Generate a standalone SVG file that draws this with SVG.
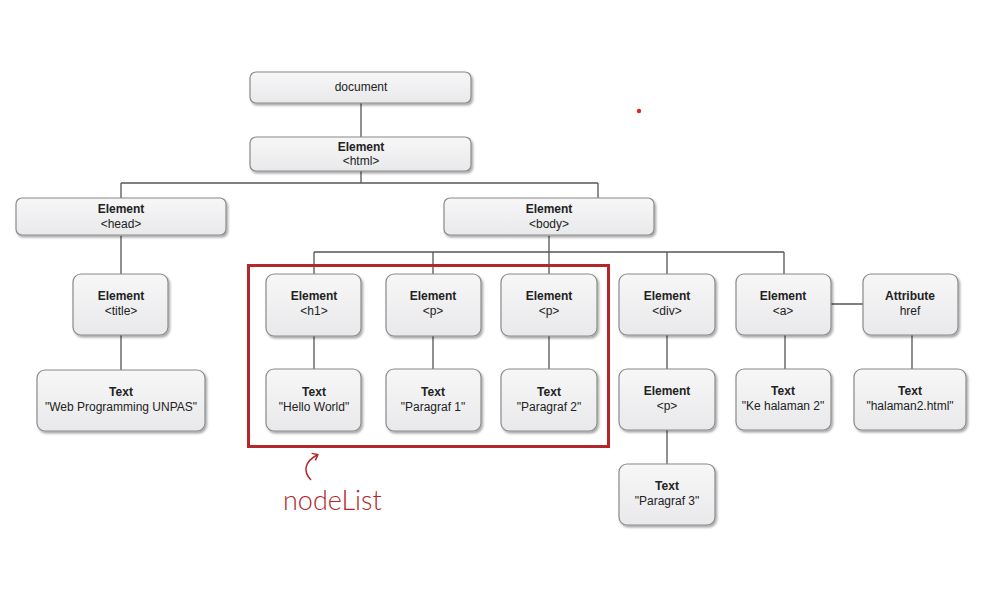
<svg xmlns="http://www.w3.org/2000/svg" width="991" height="602" viewBox="0 0 991 602">
<defs>
<linearGradient id="g" x1="0" y1="0" x2="0" y2="1"><stop offset="0" stop-color="#f7f7f8"/><stop offset="1" stop-color="#e9e9eb"/></linearGradient>
<filter id="sh" x="-10%" y="-10%" width="125%" height="130%"><feDropShadow dx="1.5" dy="2" stdDeviation="1.2" flood-color="#000" flood-opacity="0.35"/></filter>
<marker id="arr" markerWidth="10" markerHeight="10" refX="5" refY="5" orient="auto" markerUnits="userSpaceOnUse"><path d="M1,1 L6,5 L1,9" fill="none" stroke="#b3262a" stroke-width="1.5"/></marker>
</defs>
<style>
.n rect{fill:url(#g);stroke:#8a8a8a;stroke-width:1.2;filter:url(#sh)}
.n text{font-family:"Liberation Sans",Arial,sans-serif;font-size:12px;fill:#222;text-anchor:middle}
.n .b{font-weight:bold}
#connectors path{fill:none;stroke:#555;stroke-width:1.3}
</style>
<rect width="991" height="602" fill="#fff"/>
<g id="connectors">
<path d="M361,103V137"/>
<path d="M361,171V183M121,183H598M121,183V198M598,183V198"/>
<path d="M121,236V274M121,335V370"/>
<path d="M549,236V252M314,252H784M314,252V274M433,252V274M549,252V274M667,252V274M784,252V274"/>
<path d="M314,336V369M433,336V369M549,336V369"/>
<path d="M667,335V369M667,430V464"/>
<path d="M831,304H863M785,335V369M912,335V369"/>
</g>
<g id="document" class="n"><rect x="250" y="72" width="221" height="31" rx="6"/><text x="361" y="91">document</text></g>
<g id="html" class="n"><rect x="250" y="137" width="221" height="34" rx="6"/><text class="b" x="361" y="151">Element</text><text x="361" y="165">&lt;html&gt;</text></g>
<g id="head" class="n"><rect x="16" y="198" width="210" height="37" rx="6"/><text class="b" x="121" y="213">Element</text><text x="121" y="228">&lt;head&gt;</text></g>
<g id="body" class="n"><rect x="444" y="198" width="210" height="37" rx="6"/><text class="b" x="549" y="213">Element</text><text x="549" y="228">&lt;body&gt;</text></g>
<g id="title" class="n"><rect x="73" y="274" width="95" height="61" rx="8"/><text class="b" x="121" y="300">Element</text><text x="121" y="315">&lt;title&gt;</text></g>
<g id="titletext" class="n"><rect x="37" y="370" width="168" height="61" rx="8"/><text class="b" x="121" y="396">Text</text><text x="121" y="411">"Web Programming UNPAS"</text></g>
<g id="h1" class="n"><rect x="266" y="274" width="95" height="62" rx="8"/><text class="b" x="314" y="300">Element</text><text x="314" y="315">&lt;h1&gt;</text></g>
<g id="p1" class="n"><rect x="386" y="274" width="95" height="62" rx="8"/><text class="b" x="433" y="300">Element</text><text x="433" y="315">&lt;p&gt;</text></g>
<g id="p2" class="n"><rect x="501" y="274" width="96" height="62" rx="8"/><text class="b" x="549" y="300">Element</text><text x="549" y="315">&lt;p&gt;</text></g>
<g id="h1text" class="n"><rect x="266" y="369" width="95" height="62" rx="8"/><text class="b" x="314" y="396">Text</text><text x="314" y="411">"Hello World"</text></g>
<g id="p1text" class="n"><rect x="386" y="369" width="95" height="62" rx="8"/><text class="b" x="433" y="396">Text</text><text x="433" y="411">"Paragraf 1"</text></g>
<g id="p2text" class="n"><rect x="501" y="369" width="96" height="62" rx="8"/><text class="b" x="549" y="396">Text</text><text x="549" y="411">"Paragraf 2"</text></g>
<g id="div" class="n"><rect x="619" y="274" width="96" height="61" rx="8"/><text class="b" x="667" y="300">Element</text><text x="667" y="315">&lt;div&gt;</text></g>
<g id="a" class="n"><rect x="736" y="274" width="95" height="61" rx="8"/><text class="b" x="783" y="300">Element</text><text x="783" y="315">&lt;a&gt;</text></g>
<g id="attr" class="n"><rect x="863" y="274" width="95" height="61" rx="8"/><text class="b" x="910" y="300">Attribute</text><text x="910" y="315">href</text></g>
<g id="p3" class="n"><rect x="619" y="369" width="96" height="61" rx="8"/><text class="b" x="667" y="395">Element</text><text x="667" y="410">&lt;p&gt;</text></g>
<g id="atext" class="n"><rect x="736" y="369" width="95" height="61" rx="8"/><text class="b" x="783" y="395">Text</text><text x="783" y="410">"Ke halaman 2"</text></g>
<g id="hreftext" class="n"><rect x="854" y="369" width="112" height="61" rx="8"/><text class="b" x="910" y="395">Text</text><text x="910" y="410">"halaman2.html"</text></g>
<g id="p3text" class="n"><rect x="619" y="464" width="96" height="61" rx="8"/><text class="b" x="667" y="490">Text</text><text x="667" y="505">"Paragraf 3"</text></g>
<g id="nodelist">
<rect x="248.5" y="265.5" width="360" height="181" fill="none" stroke="#b3262a" stroke-width="3"/>
<path d="M311,480 C303,472 304,462 317,455" fill="none" stroke="#b3262a" stroke-width="1.5" marker-end="url(#arr)"/>
<text x="283" y="510" font-family="Lato,'Open Sans',sans-serif" font-weight="300" font-size="27" fill="#b3262a">nodeList</text>
</g>
<circle cx="639" cy="111" r="2.2" fill="#e8231f"/>
</svg>
